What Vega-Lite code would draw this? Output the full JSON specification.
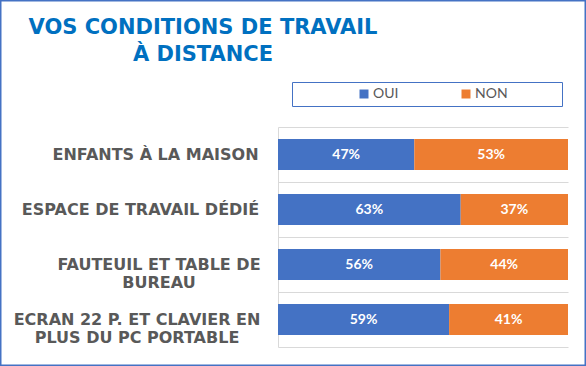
{
  "$schema": "https://vega.github.io/schema/vega-lite/v6.json",
  "width": 586,
  "height": 366,
  "autosize": {"type": "none"},
  "padding": 0,
  "background": "white",
  "view": {"stroke": "#4472C4", "strokeWidth": 3, "fill": "white"},
  "title": {
    "text": ["VOS CONDITIONS DE TRAVAIL", "À DISTANCE"],
    "font": "DejaVu Sans",
    "fontWeight": "bold",
    "fontSize": 21,
    "color": "#0070C0",
    "anchor": "middle",
    "frame": "group",
    "dx": -90,
    "baseline": "top",
    "offset": -65,
    "lineHeight": 27
  },
  "data": {
    "values": [
      {"condition": "ENFANTS À LA MAISON", "reponse": "OUI", "part": 0.47},
      {"condition": "ENFANTS À LA MAISON", "reponse": "NON", "part": 0.53},
      {"condition": "ESPACE DE TRAVAIL DÉDIÉ", "reponse": "OUI", "part": 0.63},
      {"condition": "ESPACE DE TRAVAIL DÉDIÉ", "reponse": "NON", "part": 0.37},
      {"condition": "FAUTEUIL ET TABLE DE BUREAU", "reponse": "OUI", "part": 0.56},
      {"condition": "FAUTEUIL ET TABLE DE BUREAU", "reponse": "NON", "part": 0.44},
      {"condition": "ECRAN 22 P. ET CLAVIER EN PLUS DU PC PORTABLE", "reponse": "OUI", "part": 0.59},
      {"condition": "ECRAN 22 P. ET CLAVIER EN PLUS DU PC PORTABLE", "reponse": "NON", "part": 0.41}
    ]
  },
  "encoding": {
    "y": {
      "field": "condition",
      "type": "nominal",
      "sort": null,
      "scale": {"range": [127, 347], "paddingInner": 0, "paddingOuter": 0},
      "axis": {
        "title": null,
        "orient": "left",
        "offset": -278,
        "ticks": false,
        "domain": true,
        "domainColor": "#D9D9D9",
        "domainWidth": 1,
        "grid": true,
        "gridColor": "#D9D9D9",
        "gridWidth": 1,
        "bandPosition": 0,
        "labelAlign": "center",
        "labelBaseline": "middle",
        "labelFont": "DejaVu Sans",
        "labelFontWeight": "bold",
        "labelFontSize": 16,
        "labelColor": "#595959",
        "labelLineHeight": 18.5,
        "labelLimit": 400,
        "labelPadding": {
          "condition": [
            {"test": "datum.value == 'ENFANTS À LA MAISON'", "value": 123},
            {"test": "datum.value == 'ESPACE DE TRAVAIL DÉDIÉ'", "value": 138},
            {"test": "datum.value == 'FAUTEUIL ET TABLE DE BUREAU'", "value": 119.5}
          ],
          "value": 141.5
        },
        "labelExpr": "datum.value == 'FAUTEUIL ET TABLE DE BUREAU' ? ['FAUTEUIL ET TABLE DE', 'BUREAU'] : datum.value == 'ECRAN 22 P. ET CLAVIER EN PLUS DU PC PORTABLE' ? ['ECRAN 22 P. ET CLAVIER EN', 'PLUS DU PC PORTABLE'] : datum.label"
      }
    },
    "order": {"field": "reponse", "type": "nominal", "sort": "descending"}
  },
  "layer": [
    {
      "mark": {"type": "bar", "height": {"band": 0.56}},
      "encoding": {
        "x": {
          "field": "part",
          "type": "quantitative",
          "stack": "zero",
          "scale": {"domain": [0, 1], "range": [278, 568], "nice": false},
          "axis": {
            "orient": "bottom",
            "offset": -19,
            "title": null,
            "labels": false,
            "ticks": false,
            "grid": false,
            "domain": true,
            "domainColor": "#D9D9D9",
            "domainWidth": 1
          }
        },
        "color": {
          "field": "reponse",
          "type": "nominal",
          "scale": {"domain": ["OUI", "NON"], "range": ["#4472C4", "#ED7D31"]},
          "legend": {
            "orient": "none",
            "legendX": 292,
            "legendY": 82,
            "direction": "horizontal",
            "title": " ",
            "titleOrient": "right",
            "titleFontSize": 1,
            "titlePadding": 49,
            "strokeColor": "#4472C4",
            "padding": 5,
            "symbolType": "square",
            "symbolSize": 81,
            "symbolStrokeWidth": 0,
            "symbolOffset": 60,
            "labelFont": "Lato",
            "labelFontSize": 14,
            "labelColor": "#595959",
            "labelOffset": 2,
            "columnPadding": 0
          }
        }
      }
    },
    {
      "mark": {"type": "text", "color": "white", "font": "Lato", "fontWeight": "bold", "fontSize": 14, "baseline": "middle", "align": "center"},
      "encoding": {
        "x": {
          "field": "part",
          "type": "quantitative",
          "stack": "zero",
          "bandPosition": 0.5,
          "scale": {"domain": [0, 1], "range": [278, 568], "nice": false},
          "axis": {
            "orient": "bottom",
            "offset": -19,
            "title": null,
            "labels": false,
            "ticks": false,
            "grid": false,
            "domain": true,
            "domainColor": "#D9D9D9",
            "domainWidth": 1
          }
        },
        "detail": {"field": "reponse", "type": "nominal"},
        "text": {"field": "part", "type": "quantitative", "format": ".0%"}
      }
    }
  ]
}
